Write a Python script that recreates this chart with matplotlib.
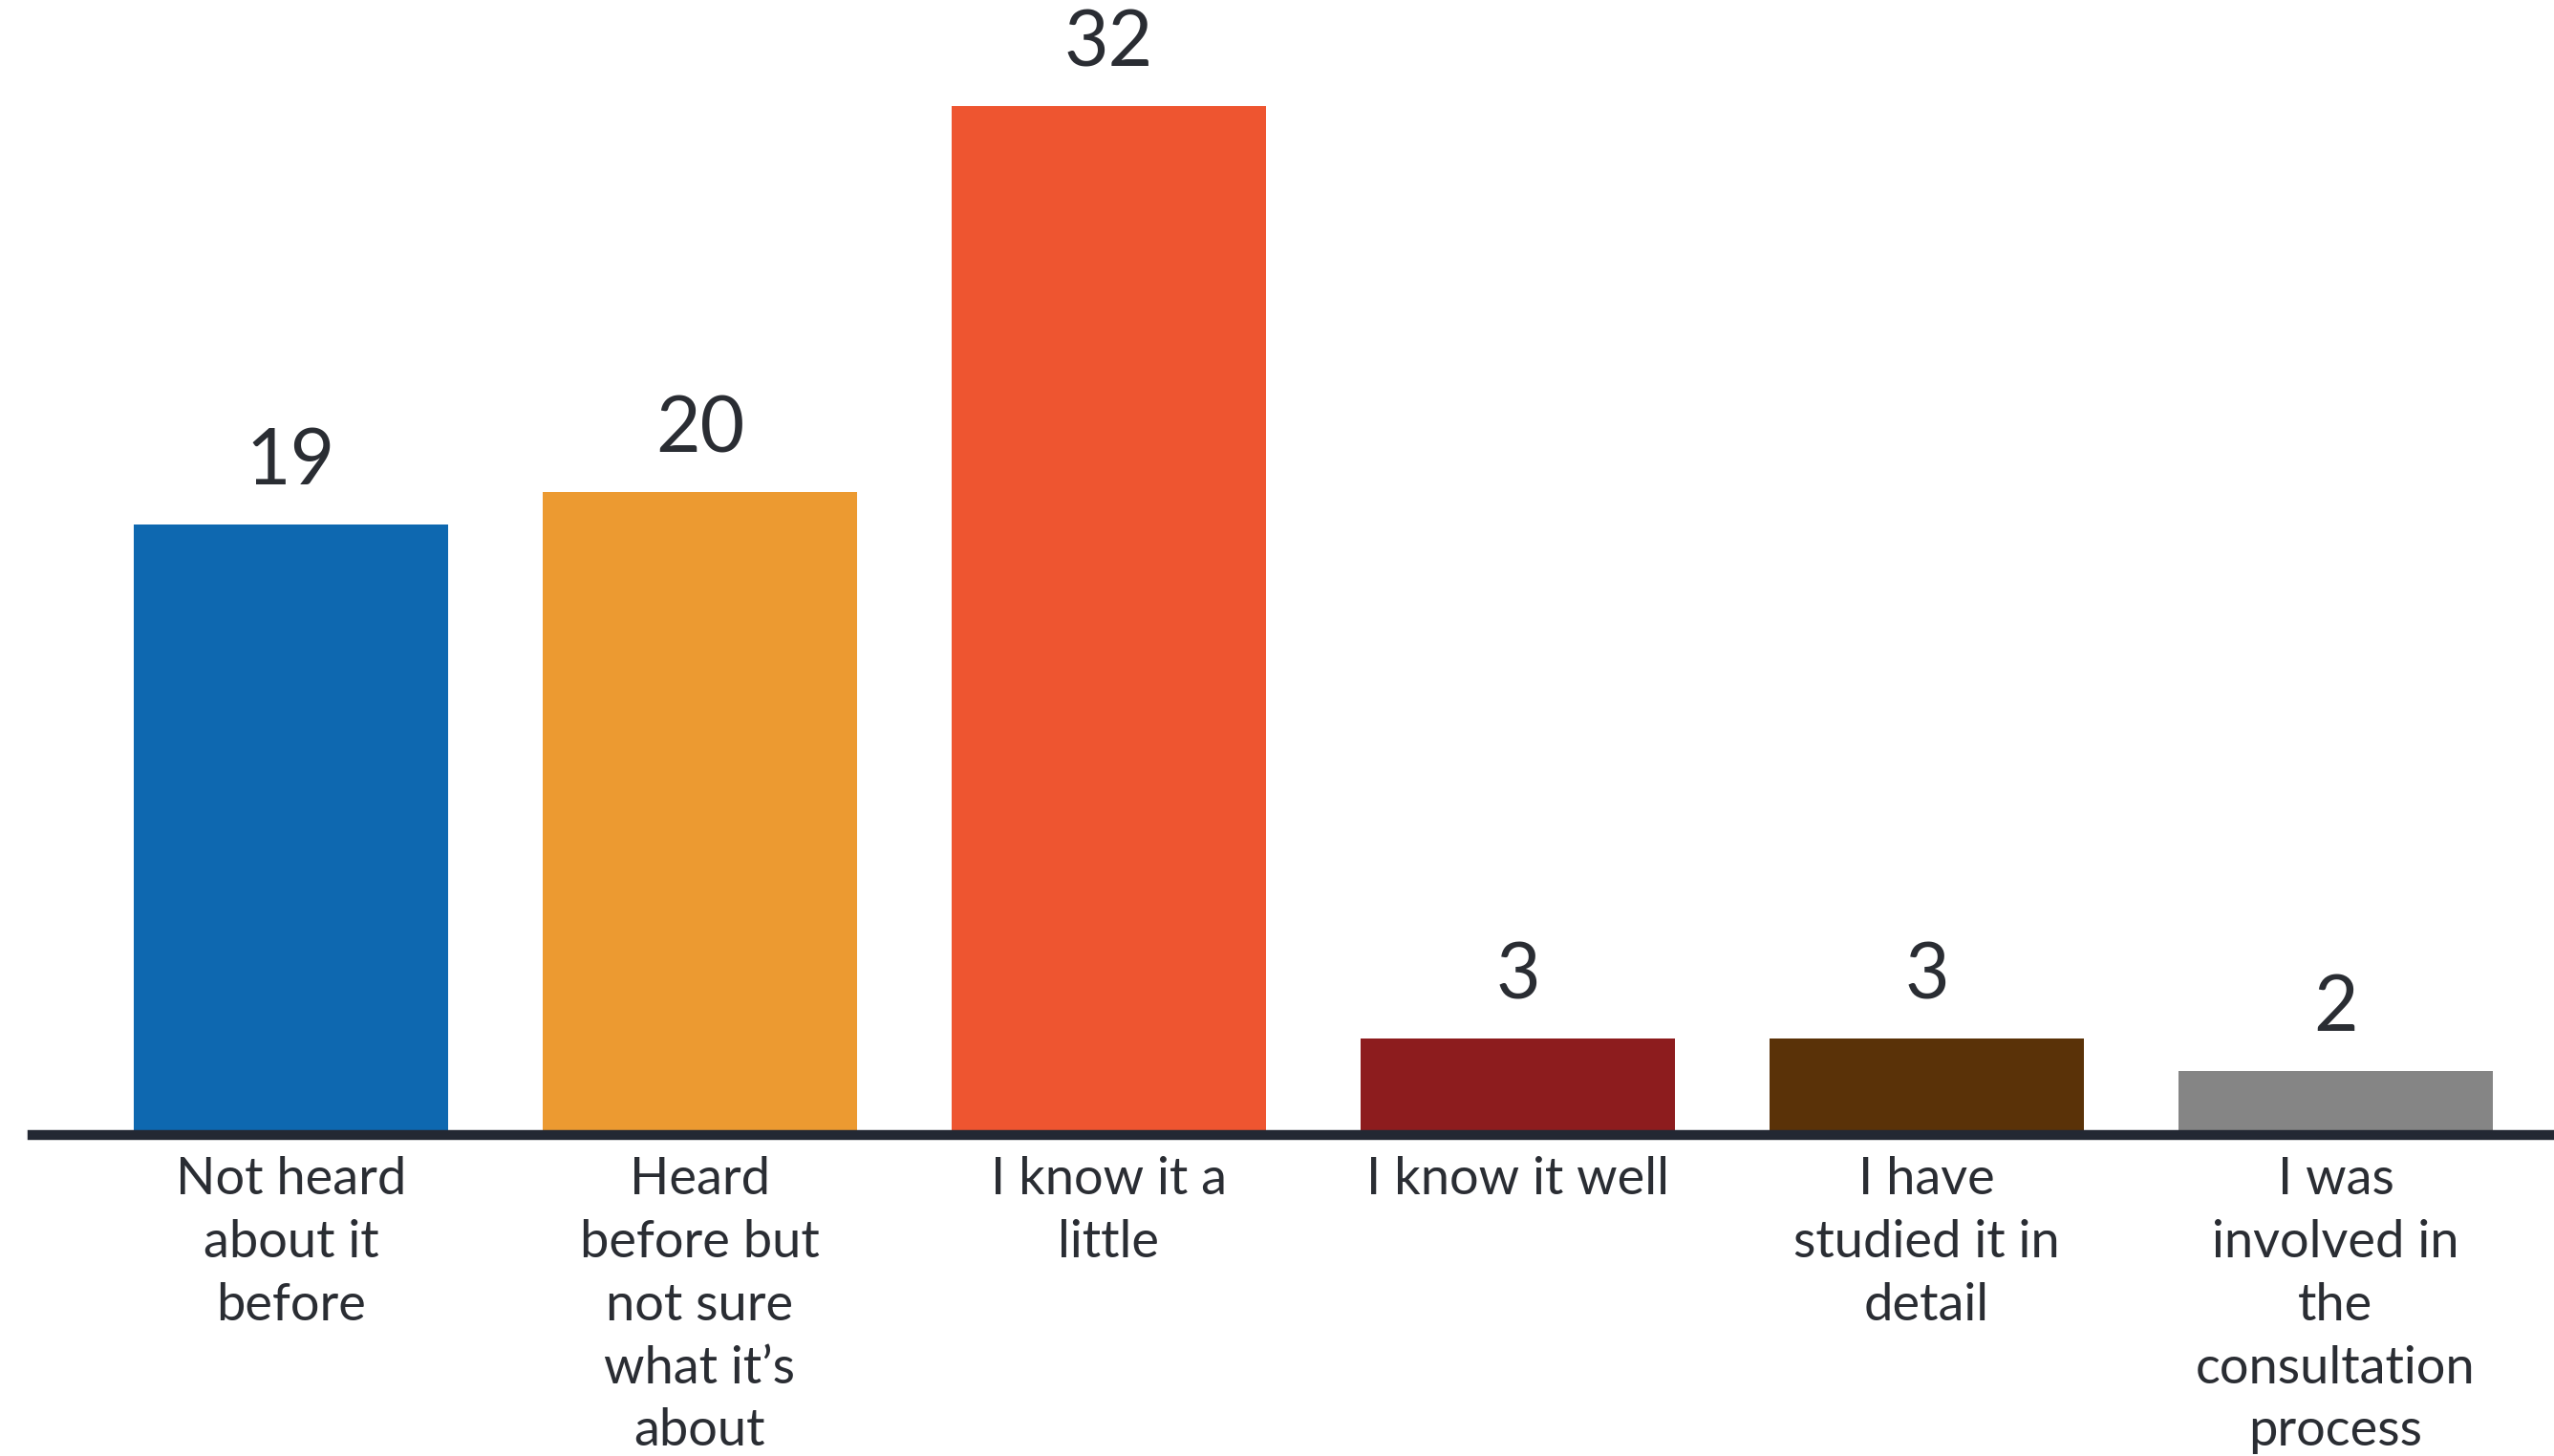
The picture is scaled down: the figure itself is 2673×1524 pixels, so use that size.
import numpy as np
import matplotlib
matplotlib.use("Agg")
import matplotlib.pyplot as plt

categories = [
    "Not heard\nabout it\nbefore",
    "Heard\nbefore but\nnot sure\nwhat it\u2019s\nabout",
    "I know it a\nlittle",
    "I know it well",
    "I have\nstudied it in\ndetail",
    "I was\ninvolved in\nthe\nconsultation\nprocess",
]
values = [19, 20, 32, 3, 3, 2]
colors = ["#0e68b0", "#ec9a31", "#ee5530", "#8d1c1e", "#5a3208", "#858585"]

text_color = "#2a2d33"
plt.rcParams["font.family"] = ["Lato", "DejaVu Sans"]

fig = plt.figure(figsize=(26.73, 15.24), dpi=100)
ax = fig.add_axes([34 / 2673, 336 / 1524, 1 - 34 / 2673, 1188 / 1524])

x = np.arange(len(values))
bars = ax.bar(x, values, width=0.769, color=colors, zorder=2)
ax.bar_label(bars, labels=[str(v) for v in values], padding=20,
             fontsize=58, color=text_color)

ax.set_xlim(-0.632, 5.534)
ax.set_ylim(0, 35.3)

ax.set_xticks(x)
ax.set_xticklabels(categories, fontsize=39, color=text_color, linespacing=1.42)
ax.tick_params(axis="x", length=0, pad=16)
ax.set_yticks([])

for side in ["top", "right", "left"]:
    ax.spines[side].set_visible(False)
ax.spines["bottom"].set_linewidth(7.5)
ax.spines["bottom"].set_color("#232833")
ax.spines["bottom"].set_zorder(3)

fig.savefig("out.png", dpi=100, facecolor="white")
